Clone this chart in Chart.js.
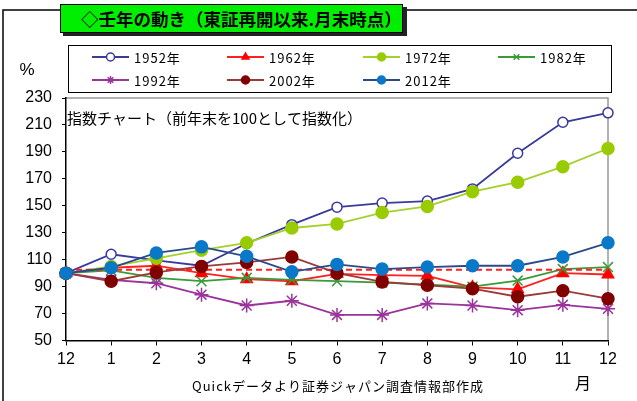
<!DOCTYPE html>
<html>
<head>
<meta charset="utf-8">
<script src="https://cdn.jsdelivr.net/npm/chart.js@4/dist/chart.umd.min.js"></script>
<style>
  html, body { margin: 0; padding: 0; background: #fff; }
  #wrap { width: 637px; height: 401px; }
</style>
</head>
<body>
<div id="wrap"><canvas id="c" width="637" height="401"></canvas></div>
<script>
  // months from previous year-end (12) to this year-end (12)
  var months = ['12', '1', '2', '3', '4', '5', '6', '7', '8', '9', '10', '11', '12'];
  var yTicks = [50, 70, 90, 110, 130, 150, 170, 190, 210, 230];

  var y1952 = [100, 114, 109.5, 105.5, 122, 136, 149, 152, 153.5, 162.5, 189, 212, 219];
  var y1962 = [100, 104, 105.5, 100, 95.5, 94, 99.5, 98.5, 98, 89.5, 88, 100, 99];
  var y1972 = [100, 105, 111, 117, 122.5, 133.5, 136.5, 145, 149.5, 160.5, 167.5, 179, 192.5];
  var y1982 = [100, 102, 96.5, 94, 96.5, 95, 94, 93, 91.5, 90, 94.5, 103, 104.5];
  var y1992 = [100, 95, 92.5, 84, 76, 79.5, 69, 69, 77.5, 76, 72.5, 76.5, 73.5];
  var y2002 = [100, 94, 100.5, 105, 108, 112, 100, 93.5, 91, 88.5, 82.5, 87, 81];
  var y2012 = [100, 104, 115, 119.5, 112.5, 101, 106.5, 103, 104.5, 105.5, 105.5, 112, 122.5];
  var refLine = [102.5, 102.5, 102.5, 102.5, 102.5, 102.5, 102.5, 102.5, 102.5, 102.5, 102.5, 102.5, 102.5];

  var NUM_FONT = '"Liberation Sans", Arial, sans-serif';
  var JP_FONT = '"Noto Sans CJK JP", "Noto Sans", sans-serif';

  function series(label, data, line, fill, style, radius, order) {
    return {
      label: label,
      data: data,
      borderColor: line,
      backgroundColor: fill,
      pointBackgroundColor: fill,
      pointBorderColor: style === 'circle' && fill === '#ffffff' ? line : (style === 'crossRot' || style === 'star' ? line : fill),
      pointStyle: style,
      pointRadius: radius,
      pointBorderWidth: 1.5,
      borderWidth: 1.8,
      tension: 0,
      order: order
    };
  }

  var datasets = [
    series('1952年', y1952, '#3a3a9e', '#ffffff', 'circle', 5, 7),
    series('1962年', y1962, '#ff2020', '#ff0000', 'triangle', 6.5, 6),
    series('1972年', y1972, '#a4d02c', '#99cc00', 'circle', 6, 5),
    series('1982年', y1982, '#3a9a3a', '#3a9a3a', 'crossRot', 7, 4),
    series('1992年', y1992, '#9a339a', '#800080', 'star', 7, 3),
    series('2002年', y2002, '#9a3a3a', '#800000', 'circle', 6, 2),
    series('2012年', y2012, '#2a4a8a', '#0a78c8', 'circle', 6, 1),
    {
      label: 'ref',
      data: refLine,
      borderColor: '#ff2020',
      borderWidth: 1.8,
      borderDash: [6, 4],
      pointRadius: 0,
      order: 3.5
    }
  ];

  function drawMarker(ctx, style, x, y, r) {
    Chart.helpers.drawPoint(ctx, { pointStyle: style, radius: r, borderWidth: 1.5 }, x, y);
  }

  var decor = {
    id: 'decor',
    beforeDraw: function (chart) {
      var ctx = chart.ctx;
      ctx.save();
      ctx.fillStyle = '#ffffff';
      ctx.fillRect(0, 0, chart.width, chart.height);
      // outer frame
      ctx.strokeStyle = '#000';
      ctx.lineWidth = 1.5;
      ctx.beginPath();
      ctx.moveTo(3, 401);
      ctx.lineTo(3, 10);
      ctx.lineTo(637, 10);
      ctx.stroke();
      // plot box (top and right in gray)
      var a = chart.chartArea;
      ctx.strokeStyle = '#999';
      ctx.lineWidth = 1.5;
      ctx.beginPath();
      ctx.moveTo(a.left, a.top);
      ctx.lineTo(a.right, a.top);
      ctx.lineTo(a.right, a.bottom);
      ctx.stroke();
      ctx.restore();
    },
    afterDraw: function (chart) {
      var ctx = chart.ctx;
      ctx.save();
      // title box
      ctx.fillStyle = '#222';
      ctx.fillRect(63, 7, 344, 29);
      ctx.fillStyle = '#00ee00';
      ctx.fillRect(60, 4, 343, 29);
      ctx.strokeStyle = '#000';
      ctx.lineWidth = 1;
      ctx.strokeRect(60.5, 4.5, 342, 28);
      ctx.fillStyle = '#000';
      ctx.font = 'bold 17.5px ' + JP_FONT;
      ctx.textBaseline = 'middle';
      ctx.textAlign = 'left';
      ctx.fillText('◇壬年の動き（東証再開以来.月末時点）', 81, 19);

      // legend box
      ctx.strokeStyle = '#000';
      ctx.lineWidth = 1;
      ctx.strokeRect(68.5, 45.5, 543, 47);
      var colX = [92, 227, 363, 498];
      var rowY = [57, 80];
      var items = chart.data.datasets.slice(0, 7);
      items.forEach(function (ds, i) {
        var x = colX[i % 4];
        var y = rowY[Math.floor(i / 4)];
        ctx.strokeStyle = ds.borderColor;
        ctx.lineWidth = 1.8;
        ctx.beginPath();
        ctx.moveTo(x, y);
        ctx.lineTo(x + 37, y);
        ctx.stroke();
        ctx.fillStyle = ds.pointBackgroundColor;
        ctx.strokeStyle = ds.pointBorderColor;
        ctx.lineWidth = 1.5;
        drawMarker(ctx, ds.pointStyle, x + 18.5, y, 4);
        ctx.fillStyle = '#000';
        ctx.font = '13px ' + JP_FONT;
        ctx.letterSpacing = '1px';
        ctx.textBaseline = 'middle';
        ctx.fillText(ds.label, x + 42, y + 1);
        ctx.letterSpacing = '0px';
      });

      // texts
      ctx.fillStyle = '#000';
      ctx.font = '17px ' + NUM_FONT;
      ctx.textAlign = 'center';
      ctx.fillText('%', 27, 70);
      ctx.font = '15px ' + JP_FONT;
      ctx.textAlign = 'left';
      ctx.fillText('指数チャート（前年末を100として指数化）', 67, 118);
      ctx.font = '13px ' + JP_FONT;
      ctx.letterSpacing = '1px';
      ctx.textAlign = 'center';
      ctx.fillText('Quickデータより証券ジャパン調査情報部作成', 338, 386);
      ctx.letterSpacing = '0px';
      ctx.font = '16px ' + JP_FONT;
      ctx.fillText('月', 583, 383);
      ctx.restore();
    }
  };

  new Chart(document.getElementById('c').getContext('2d'), {
    type: 'line',
    data: { labels: months, datasets: datasets },
    options: {
      responsive: false,
      animation: false,
      layout: { padding: { left: 0, top: 98, right: 29, bottom: 0 } },
      plugins: {
        legend: { display: false },
        tooltip: { enabled: false }
      },
      scales: {
        x: {
          offset: false,
          grid: { drawOnChartArea: false, drawTicks: true, tickLength: 5, color: '#000' },
          border: { display: true, color: '#000', width: 1.5 },
          ticks: { color: '#000', font: { family: NUM_FONT, size: 16 }, padding: 4, maxRotation: 0, autoSkip: false },
          afterFit: function (s) { s.height = 60.5; }
        },
        y: {
          min: 50,
          max: 230,
          afterBuildTicks: function (s) { s.ticks = yTicks.map(function (v) { return { value: v }; }); },
          grid: { drawOnChartArea: false, drawTicks: true, tickLength: 4, color: '#000' },
          border: { display: true, color: '#000', width: 1.5 },
          ticks: { color: '#000', font: { family: NUM_FONT, size: 16 }, padding: 10 },
          afterFit: function (s) { s.width = 66; }
        }
      }
    },
    plugins: [decor]
  });
</script>
</body>
</html>
